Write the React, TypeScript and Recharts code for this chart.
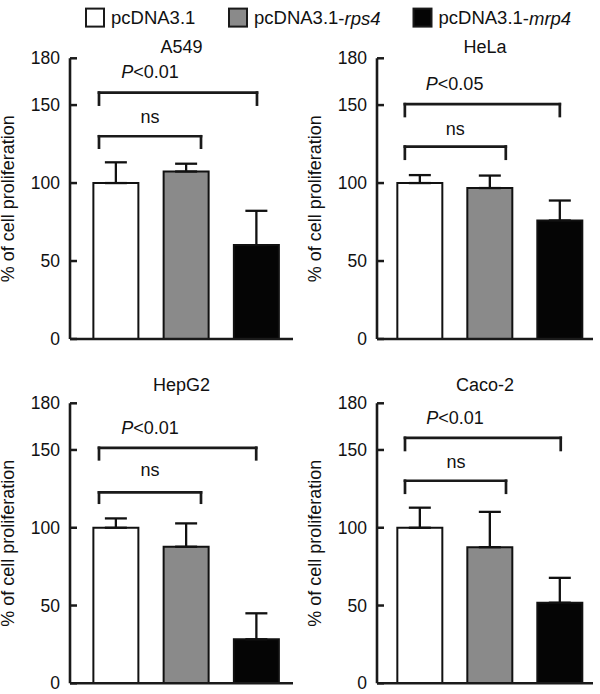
import React from 'react';
import { BarChart, Bar, XAxis, YAxis, ErrorBar, Cell, ReferenceLine, ReferenceDot } from 'recharts';

const FONT = '"Liberation Sans", Arial, Helvetica, sans-serif';

// ---- data ----
const groups = ['pcDNA3.1', 'pcDNA3.1-rps4', 'pcDNA3.1-mrp4'];
const groupX = [1, 2, 3];
const groupColors = ['#ffffff', '#8a8a8a', '#050505'];
const yTicks = [0, 50, 100, 150, 180];

const a549Values = [100, 107.4, 60.2];
const a549Errors = [13.3, 5, 22];
const helaValues = [100, 96.8, 76];
const helaErrors = [5.1, 8, 12.8];
const hepg2Values = [100, 87.8, 28.3];
const hepg2Errors = [6, 15, 16.7];
const caco2Values = [100, 87.5, 51.8];
const caco2Errors = [12.9, 22.7, 16];

const a549Brackets = [
  { from: 0.765, to: 3.014, top: 158, leg: 150.3 },
  { from: 0.765, to: 2.217, top: 130, leg: 122.7 },
];
const a549Notes = [
  { x: 1.49, y: 171, text: 'P<0.01' },
  { x: 1.49, y: 142.6, text: 'ns' },
];
const helaBrackets = [
  { from: 0.779, to: 2.993, top: 150.6, leg: 143 },
  { from: 0.779, to: 2.221, top: 123.4, leg: 115.6 },
];
const helaNotes = [
  { x: 1.49, y: 163.4, text: 'P<0.05' },
  { x: 1.5, y: 134.5, text: 'ns' },
];
const hepg2Brackets = [
  { from: 0.765, to: 3.003, top: 151.4, leg: 144 },
  { from: 0.765, to: 2.217, top: 122.7, leg: 116.1 },
];
const hepg2Notes = [
  { x: 1.49, y: 163.9, text: 'P<0.01' },
  { x: 1.49, y: 137.1, text: 'ns' },
];
const caco2Brackets = [
  { from: 0.781, to: 3.006, top: 157.8, leg: 150 },
  { from: 0.781, to: 2.224, top: 130.2, leg: 122.5 },
];
const caco2Notes = [
  { x: 1.495, y: 170.7, text: 'P<0.01' },
  { x: 1.51, y: 142.4, text: 'ns' },
];

const panels = [
  { title: 'A549', values: a549Values, errors: a549Errors, brackets: a549Brackets, notes: a549Notes },
  { title: 'HeLa', values: helaValues, errors: helaErrors, brackets: helaBrackets, notes: helaNotes },
  { title: 'HepG2', values: hepg2Values, errors: hepg2Errors, brackets: hepg2Brackets, notes: hepg2Notes },
  { title: 'Caco-2', values: caco2Values, errors: caco2Errors, brackets: caco2Brackets, notes: caco2Notes },
];

// ---- layout ----
const CHART_W = 300;
const CHART_H = 347;
const layouts = [
  { left: 0, top: 0, axisW: 70, right: 7, mTop: 58.3, mBottom: 7, xDomain: [0.3523, 3.5267], titleY: 53 },
  { left: 300, top: 0, axisW: 77, right: 7, mTop: 58.3, mBottom: 7, xDomain: [0.381, 3.467], titleY: 53 },
  { left: 0, top: 347, axisW: 70, right: 7, mTop: 56.3, mBottom: 9.7, xDomain: [0.3523, 3.5267], titleY: 391 },
  { left: 300, top: 347, axisW: 77, right: 7, mTop: 56.3, mBottom: 9.7, xDomain: [0.381, 3.467], titleY: 391 },
];
const legendX = [85, 228, 412.5];
const AXIS_COLOR = '#1a1a1a';

const YTick = (props: any) => {
  const { x, y, payload } = props;
  return (
    <g>
      <line x1={x + 10} x2={x + 17} y1={y} y2={y} stroke={AXIS_COLOR} strokeWidth={2.5} />
      <text x={x} y={y} textAnchor="end" dominantBaseline="central" fontSize={17.5} fill="#111" fontFamily={FONT}>
        {payload.value}
      </text>
    </g>
  );
};

const renderNote = (text: string) => (props: any) => {
  const vb = props.viewBox || {};
  const cx = (vb.x || 0) + (vb.width || 0) / 2;
  const cy = (vb.y || 0) + (vb.height || 0) / 2;
  const italicP = text.startsWith('P');
  return (
    <text x={cx} y={cy} textAnchor="middle" dominantBaseline="central" fontSize={18} fill="#111" fontFamily={FONT}>
      {italicP ? (
        <>
          <tspan fontStyle="italic">P</tspan>
          <tspan>{text.slice(1)}</tspan>
        </>
      ) : (
        text
      )}
    </text>
  );
};

function Panel({ panel, layout }: any) {
  const data = groupX.map((x, i) => ({
    x,
    name: groups[i],
    value: panel.values[i],
    err: [0, panel.errors[i]],
  }));
  const lineProps = { stroke: '#1a1a1a', strokeWidth: 2.7, strokeLinecap: 'square' as const, ifOverflow: 'visible' as const };
  return (
    <div style={{ position: 'absolute', left: layout.left, top: layout.top }}>
      <BarChart
        width={CHART_W}
        height={CHART_H}
        data={data}
        margin={{ top: layout.mTop, right: layout.right, bottom: layout.mBottom, left: 0 }}
      >
        <XAxis
          type="number"
          dataKey="x"
          domain={layout.xDomain}
          ticks={groupX}
          tick={false}
          tickLine={false}
          height={1}
          allowDataOverflow
          axisLine={{ stroke: AXIS_COLOR, strokeWidth: 2.6 }}
        />
        <YAxis
          type="number"
          domain={[0, 180]}
          ticks={yTicks}
          interval={0}
          width={layout.axisW}
          tickSize={0}
          tickMargin={10}
          tickLine={false}
          tick={YTick}
          allowDataOverflow
          axisLine={{ stroke: AXIS_COLOR, strokeWidth: 2.6 }}
        />
        <Bar dataKey="value" barSize={45} stroke="#111" strokeWidth={2} isAnimationActive={false}>
          {data.map((d, i) => (
            <Cell key={d.name} fill={groupColors[i]} />
          ))}
          <ErrorBar dataKey="err" direction="y" width={11} stroke="#111" strokeWidth={2.3} isAnimationActive={false} />
        </Bar>
        {panel.brackets.map((b: any, i: number) => [
          <ReferenceLine key={`bl${i}`} segment={[{ x: b.from, y: b.leg }, { x: b.from, y: b.top }]} {...lineProps} />,
          <ReferenceLine key={`bt${i}`} segment={[{ x: b.from, y: b.top }, { x: b.to, y: b.top }]} {...lineProps} />,
          <ReferenceLine key={`br${i}`} segment={[{ x: b.to, y: b.top }, { x: b.to, y: b.leg }]} {...lineProps} />,
        ])}
        {panel.notes.map((n: any, i: number) => (
          <ReferenceDot key={`n${i}`} x={n.x} y={n.y} r={0} fill="none" stroke="none" ifOverflow="visible" label={renderNote(n.text)} />
        ))}
      </BarChart>
    </div>
  );
}

export default function App() {
  return (
    <div
      style={{
        position: 'absolute',
        left: 0,
        top: 0,
        width: 600,
        height: 694,
        background: '#fff',
        fontFamily: FONT,
        overflow: 'hidden',
      }}
    >
      <style>{`.recharts-surface{overflow:visible}`}</style>
      {panels.map((p, i) => (
        <Panel key={p.title} panel={p} layout={layouts[i]} />
      ))}
      <svg width={600} height={694} style={{ position: 'absolute', left: 0, top: 0, pointerEvents: 'none' }}>
        {/* legend */}
        {groups.map((g, i) => {
          const [base, suffix] = g.split('-');
          return (
            <g key={g}>
              <rect x={legendX[i] + 1} y={8.6} width={18} height={18} fill={groupColors[i]} stroke="#1a1a1a" strokeWidth={2} />
              <text x={legendX[i] + 26} y={17.5} dominantBaseline="central" fontSize={18.5} fill="#111" fontFamily={FONT}>
                {base}
                {suffix ? (
                  <>
                    <tspan>-</tspan>
                    <tspan fontStyle="italic">{suffix}</tspan>
                  </>
                ) : null}
              </text>
            </g>
          );
        })}
        {/* titles and y labels */}
        {panels.map((p, i) => {
          const L = layouts[i];
          const plotLeft = L.left + L.axisW;
          const plotRight = L.left + CHART_W - L.right;
          const plotTop = L.top + L.mTop;
          const plotBottom = L.top + CHART_H - L.mBottom - 1;
          const cx = (plotLeft + plotRight) / 2;
          const lx = plotLeft - 61.5;
          const ly = (plotTop + plotBottom) / 2;
          return (
            <g key={p.title}>
              <text x={cx} y={L.titleY} textAnchor="middle" fontSize={18} fill="#111" fontFamily={FONT}>
                {p.title}
              </text>
              <text
                x={lx}
                y={ly}
                transform={`rotate(-90 ${lx} ${ly})`}
                textAnchor="middle"
                dominantBaseline="central"
                fontSize={18}
                fill="#111"
                fontFamily={FONT}
              >
                % of cell proliferation
              </text>
            </g>
          );
        })}
      </svg>
    </div>
  );
}
